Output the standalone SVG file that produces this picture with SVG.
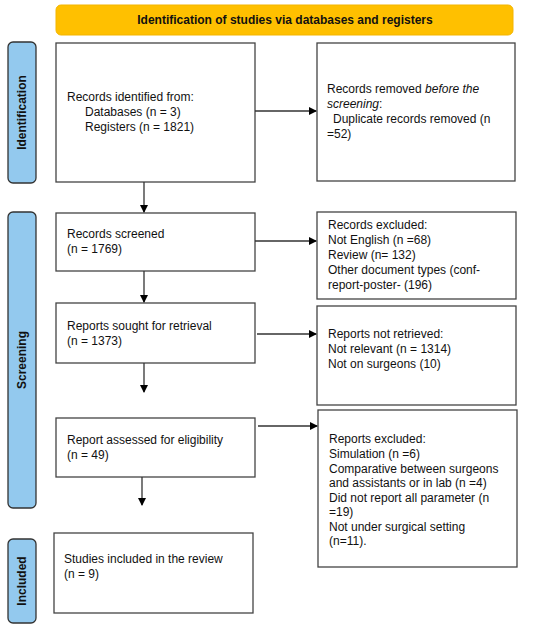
<svg xmlns="http://www.w3.org/2000/svg" width="550" height="630" viewBox="0 0 550 630">
<defs>
<marker id="ah" markerWidth="8" markerHeight="8" refX="7" refY="4" orient="auto" markerUnits="userSpaceOnUse">
<path d="M0,0 L8,4 L0,8 Z" fill="#000"/>
</marker>
<style>
.box{fill:#fff;stroke:#444;stroke-width:1.3}
.side{fill:#93C9EE;stroke:#333;stroke-width:1.3}
.t{font-family:"Liberation Sans",Arial,sans-serif;font-size:12px;fill:#111}
.b{font-family:"Liberation Sans",Arial,sans-serif;font-size:12px;font-weight:bold;fill:#111}
.c{stroke:#333;stroke-width:1.3;fill:none;marker-end:url(#ah)}
</style>
</defs>
<rect width="550" height="630" fill="#fff"/>
<g id="banner">
<rect x="56" y="5" width="457" height="30" rx="5" fill="#FFC000" stroke="#F3B500" stroke-width="1"/>
<text class="b" x="285" y="24" text-anchor="middle">Identification of studies via databases and registers</text>
</g>
<g id="side-identification">
<rect class="side" x="8" y="42" width="28" height="141" rx="5"/>
<text class="b" transform="translate(26,112.5) rotate(-90)" text-anchor="middle">Identification</text>
</g>
<g id="side-screening">
<rect class="side" x="8" y="212" width="28" height="296" rx="5"/>
<text class="b" transform="translate(26,360) rotate(-90)" text-anchor="middle">Screening</text>
</g>
<g id="side-included">
<rect class="side" x="8" y="539" width="28" height="84" rx="5"/>
<text class="b" transform="translate(26,581) rotate(-90)" text-anchor="middle">Included</text>
</g>
<g id="records-identified">
<rect class="box" x="56" y="43" width="199" height="139"/>
<text class="t" x="67" y="101">Records identified from:</text>
<text class="t" x="85" y="116">Databases (n = 3)</text>
<text class="t" x="85" y="131">Registers (n = 1821)</text>
</g>
<g id="records-removed">
<rect class="box" x="317" y="43" width="198" height="138"/>
<text class="t" x="327" y="93">Records removed <tspan font-style="italic">before the</tspan></text>
<text class="t" x="327" y="108"><tspan font-style="italic">screening</tspan>:</text>
<text class="t" x="333" y="123">Duplicate records removed (n</text>
<text class="t" x="327" y="138">=52)</text>
</g>
<g id="records-screened">
<rect class="box" x="56" y="213" width="199" height="58"/>
<text class="t" x="67" y="238">Records screened</text>
<text class="t" x="67" y="253">(n = 1769)</text>
</g>
<g id="records-excluded">
<rect class="box" x="317" y="212" width="199" height="87"/>
<text class="t" x="328" y="229">Records excluded:</text>
<text class="t" x="328" y="244">Not English (n =68)</text>
<text class="t" x="328" y="259">Review (n= 132)</text>
<text class="t" x="328" y="274">Other document types (conf-</text>
<text class="t" x="328" y="289">report-poster- (196)</text>
</g>
<g id="reports-sought">
<rect class="box" x="56" y="303" width="199" height="60"/>
<text class="t" x="67" y="330">Reports sought for retrieval</text>
<text class="t" x="67" y="345">(n = 1373)</text>
</g>
<g id="reports-not-retrieved">
<rect class="box" x="317" y="306" width="199" height="99"/>
<text class="t" x="328" y="338">Reports not retrieved:</text>
<text class="t" x="328" y="353">Not relevant (n = 1314)</text>
<text class="t" x="328" y="368">Not on surgeons (10)</text>
</g>
<g id="report-assessed">
<rect class="box" x="56" y="418" width="199" height="59"/>
<text class="t" x="67" y="444">Report assessed for eligibility</text>
<text class="t" x="67" y="459">(n = 49)</text>
</g>
<g id="reports-excluded">
<rect class="box" x="318" y="410" width="199" height="157"/>
<text class="t" x="329" y="443">Reports excluded:</text>
<text class="t" x="329" y="458">Simulation (n =6)</text>
<text class="t" x="329" y="473">Comparative between surgeons</text>
<text class="t" x="329" y="487">and assistants or in lab (n =4)</text>
<text class="t" x="329" y="502">Did not report all parameter (n</text>
<text class="t" x="329" y="516">=19)</text>
<text class="t" x="329" y="531">Not under surgical setting</text>
<text class="t" x="329" y="545">(n=11).</text>
</g>
<g id="studies-included">
<rect class="box" x="54" y="533" width="199" height="80"/>
<text class="t" x="64" y="563">Studies included in the review</text>
<text class="t" x="64" y="578">(n = 9)</text>
</g>
<g id="connectors">
<line class="c" x1="255" y1="111" x2="316" y2="111"/>
<line class="c" x1="144" y1="182" x2="144" y2="212"/>
<line class="c" x1="255" y1="241" x2="316" y2="241"/>
<line class="c" x1="144" y1="271" x2="144" y2="302"/>
<line class="c" x1="257" y1="334" x2="316" y2="334"/>
<line class="c" x1="144" y1="363" x2="144" y2="392"/>
<line class="c" x1="258" y1="426" x2="317" y2="426"/>
<line class="c" x1="142" y1="477" x2="142" y2="505"/>
</g>
</svg>
